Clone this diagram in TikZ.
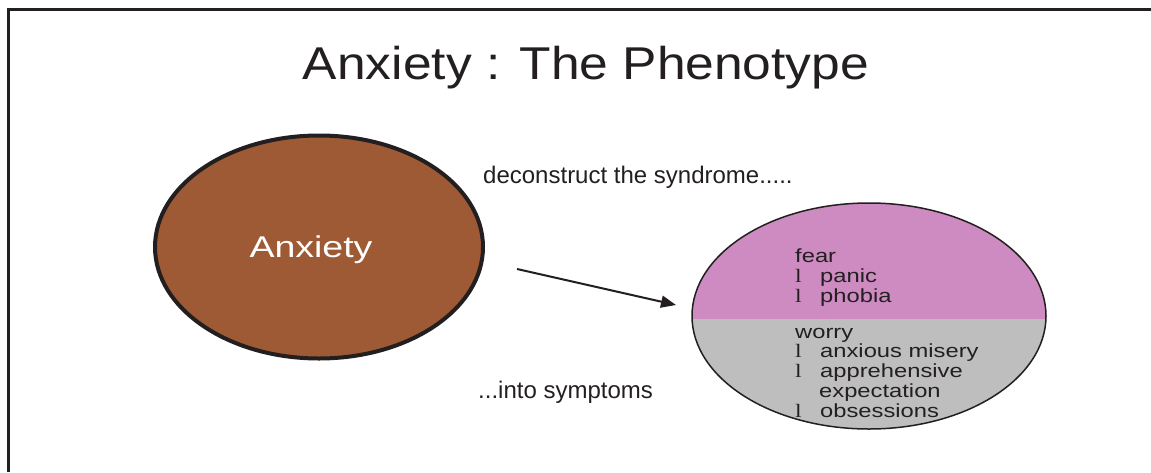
\documentclass[tikz,border=0pt]{standalone}
\usepackage{fontspec}
\setmainfont{Liberation Sans}
\newfontfamily\titlefont[FakeStretch=1.12]{Liberation Sans}
\newfontfamily\wideFont[FakeStretch=1.25]{Liberation Sans}
\newfontfamily\bulletFont[FakeStretch=1.25]{Liberation Serif}
\usetikzlibrary{shapes.geometric,arrows.meta}

\definecolor{inkdark}{HTML}{231F20}
\definecolor{anxbrown}{HTML}{9E5A34}
\definecolor{fearpink}{HTML}{CD8BC1}
\definecolor{worrygray}{HTML}{BEBEBE}

\newcommand{\bul}{\makebox[25pt][l]{\bulletFont l}}

\begin{document}
\begin{tikzpicture}[
    x=1pt, y=-1pt,
    txt/.style={anchor=base west, inner sep=0pt, text=inkdark},
    blob/.style={ellipse, draw=inkdark, inner sep=0pt},
    symp/.style={anchor=base west, inner sep=0pt, text=inkdark, align=left,
        font=\wideFont\fontsize{19}{19.7}\selectfont},
    >={Triangle[length=15pt, width=12pt]}
]
\useasboundingbox (0,0) rectangle (1151,472);

% Frame (top and left edge only)
\draw[inkdark, line width=3pt] (8.7,472) -- (8.7,9.5) -- (1151,9.5);

% Title
\node[anchor=base, inner sep=0pt, text=inkdark, font=\titlefont\fontsize{46}{46}\selectfont]
    (title) at (586,79) {Anxiety : The Phenotype};

% --- the syndrome (left) ---
\node[blob, fill=anxbrown, line width=4pt, minimum width=328pt, minimum height=223pt]
    (anx) at (319,247) {};
\node[anchor=base, inner sep=0pt, text=white, font=\wideFont\fontsize{30}{30}\selectfont]
    (anxlabel) at (311,257) {Anxiety};

\node[txt, font=\fontsize{24}{24}\selectfont] (decon) at (483,183) {deconstruct the syndrome.....};
\node[txt, font=\fontsize{24}{24}\selectfont] (into) at (478,398) {...into symptoms};

% Arrow
\coordinate (arrowtail) at (517,269);
\coordinate (arrowtip) at (676,305);
\draw[->, inkdark, line width=2pt] (arrowtail) -- (arrowtip);

% --- the symptoms (right) ---
\node[blob, line width=1.5pt, minimum width=354pt, minimum height=226pt,
    path picture={
        \fill[fearpink] (path picture bounding box.north west)
            rectangle ([yshift=-3pt]path picture bounding box.east);
        \fill[worrygray] ([yshift=-3pt]path picture bounding box.west)
            rectangle (path picture bounding box.south east);
    }] (symptoms) at (869,316) {};

% text blocks, placed by the baseline of their last line
\node[symp] (fear) at (795,302) {fear\\ \bul panic\\ \bul phobia};
\node[symp] (worry) at (795,417) {worry\\ \bul anxious misery\\ \bul apprehensive\\
    \hspace*{24pt}expectation\\ \bul obsessions};

\end{tikzpicture}
\end{document}
